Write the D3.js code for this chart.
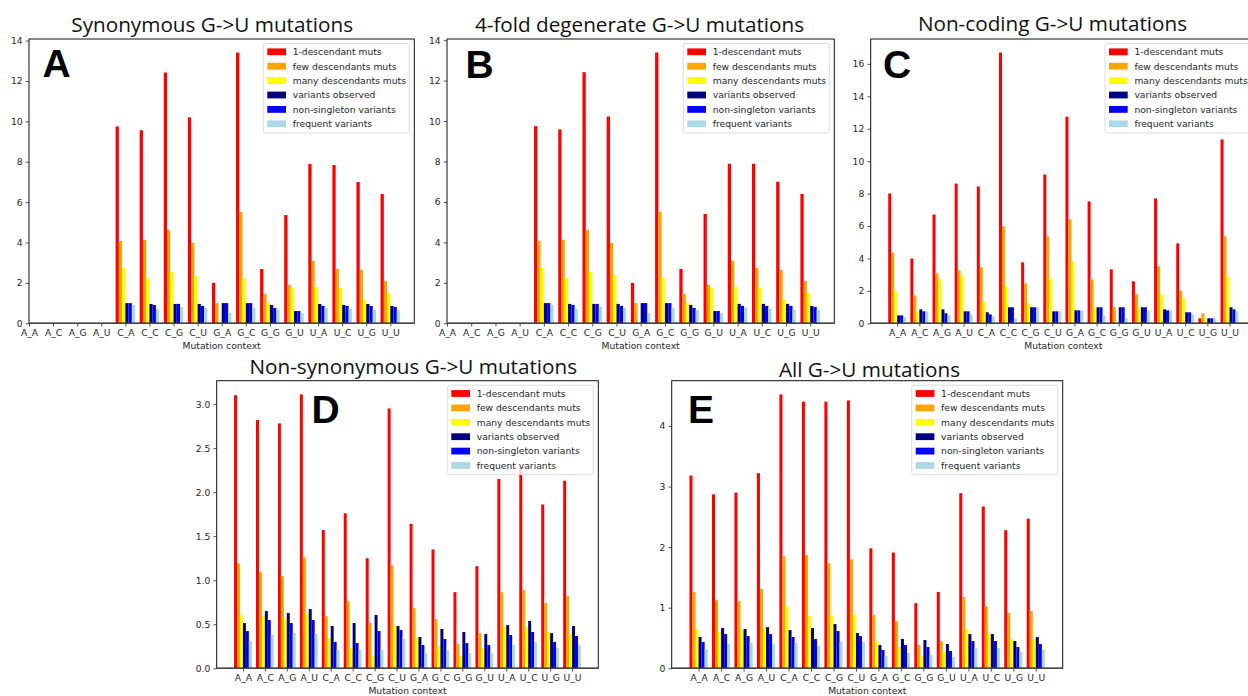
<!DOCTYPE html>
<html>
<head>
<meta charset="utf-8">
<script src="https://cdn.jsdelivr.net/npm/d3@7/dist/d3.min.js"></script>
<style>
  body { margin: 0; background: #fff; }
  svg { display: block; }
  .axis text { font-family: 'DejaVu Sans', sans-serif; font-size: 9.2px; fill: #262626; }
  .axis line { stroke: #262626; stroke-width: 0.8; }
  .axis-label { font-family: 'DejaVu Sans', sans-serif; font-size: 9.2px; fill: #262626; }
  .legend-text { font-family: 'DejaVu Sans', sans-serif; font-size: 9.2px; fill: #262626; }
  .panel-title { font-family: 'Open Sans', sans-serif; font-size: 20.7px; fill: #111; }
  .panel-letter { font-family: 'Liberation Sans', Arial, sans-serif; font-weight: bold; font-size: 39px; fill: #000; }
</style>
</head>
<body>
<svg id="chart" width="1248" height="696"></svg>
<script>
var contexts = ['A_A', 'A_C', 'A_G', 'A_U', 'C_A', 'C_C', 'C_G', 'C_U', 'G_A', 'G_C', 'G_G', 'G_U', 'U_A', 'U_C', 'U_G', 'U_U']
var seriesNames = ['1-descendant muts', 'few descendants muts', 'many descendants muts', 'variants observed', 'non-singleton variants', 'frequent variants']
var seriesColors = ['red', 'orange', 'yellow', 'navy', 'blue', 'lightblue']

// one row per series, one column per context (null = no bar)
var synonymousValues = [
  [null, null, null, null, 9.75, 9.56, 12.42, 10.2, 2.0, 13.41, 2.69, 5.36, 7.89, 7.84, 7.0, 6.4],
  [null, null, null, null, 4.08, 4.13, 4.62, 3.98, 1.0, 5.51, 1.45, 1.9, 3.09, 2.69, 2.64, 2.1],
  [null, null, null, null, 2.74, 2.24, 2.54, 2.34, 0, 2.24, 1.0, 1.75, 1.8, 1.75, 1.16, 1.5],
  [null, null, null, null, 1.0, 0.96, 0.96, 0.96, 1.0, 1.0, 0.91, 0.61, 0.96, 0.91, 0.96, 0.86],
  [null, null, null, null, 1.0, 0.91, 0.96, 0.86, 1.0, 1.0, 0.76, 0.61, 0.86, 0.86, 0.86, 0.81],
  [null, null, null, null, 0.91, 0.71, 0.81, 0.76, 0.51, 0.76, 0.66, 0.51, 0.76, 0.71, 0.66, 0.66]
]
var fourfoldValues = [
  [null, null, null, null, 9.75, 9.59, 12.42, 10.23, 2.0, 13.39, 2.69, 5.41, 7.89, 7.89, 7.0, 6.4],
  [null, null, null, null, 4.08, 4.13, 4.62, 3.98, 1.0, 5.51, 1.45, 1.9, 3.09, 2.74, 2.64, 2.1],
  [null, null, null, null, 2.74, 2.24, 2.54, 2.39, 0, 2.24, 1.0, 1.75, 1.8, 1.75, 1.16, 1.5],
  [null, null, null, null, 1.0, 0.96, 0.96, 0.96, 1.0, 1.0, 0.91, 0.61, 0.96, 0.96, 0.96, 0.86],
  [null, null, null, null, 1.0, 0.91, 0.96, 0.86, 1.0, 1.0, 0.76, 0.61, 0.86, 0.86, 0.86, 0.81],
  [null, null, null, null, 0.91, 0.71, 0.81, 0.76, 0.51, 0.76, 0.66, 0.51, 0.76, 0.71, 0.66, 0.66]
]
var nonCodingValues = [
  [8.01, 4.0, 6.71, 8.62, 8.44, 16.7, 3.76, 9.18, 12.75, 7.52, 3.33, 2.59, 7.7, 4.93, 0.31, 11.34],
  [4.37, 1.72, 3.08, 3.26, 3.45, 5.98, 2.46, 5.36, 6.41, 2.71, 0.99, 1.79, 3.51, 2.03, 0.62, 5.36],
  [1.97, 0.74, 2.71, 2.96, 1.31, 2.28, 1.23, 2.77, 3.82, 0.99, 0, 0.99, 1.79, 1.54, 0.31, 2.9],
  [0.49, 0.86, 0.86, 0.74, 0.68, 0.99, 0.99, 0.74, 0.8, 0.99, 0.99, 0.99, 0.86, 0.68, 0.31, 0.99],
  [0.49, 0.74, 0.62, 0.74, 0.55, 0.99, 0.99, 0.74, 0.8, 0.99, 0.99, 0.99, 0.8, 0.68, 0.31, 0.86],
  [0.37, 0.74, 0.49, 0.55, 0.43, 0.31, 0.99, 0.74, 0.8, 0.49, 0.31, 0.74, 0.8, 0.55, 0.31, 0.74]
]
var nonSynonymousValues = [
  [3.10, 2.82, 2.78, 3.11, 1.57, 1.76, 1.25, 2.95, 1.64, 1.35, 0.865, 1.16, 2.15, 2.28, 1.86, 2.13],
  [1.19, 1.09, 1.047, 1.26, 0.593, 0.763, 0.514, 1.17, 0.684, 0.559, 0.276, 0.4, 0.865, 0.888, 0.74, 0.82],
  [0.605, 0.593, 0.571, 0.627, 0.344, 0.23, 0.14, 0.49, 0.344, 0.253, 0.14, 0.23, 0.469, 0.469, 0.412, 0.389],
  [0.514, 0.65, 0.627, 0.673, 0.48, 0.514, 0.605, 0.48, 0.355, 0.446, 0.412, 0.389, 0.491, 0.537, 0.4, 0.48],
  [0.423, 0.548, 0.514, 0.548, 0.3, 0.287, 0.423, 0.435, 0.265, 0.333, 0.287, 0.265, 0.378, 0.412, 0.3, 0.367],
  [0.31, 0.378, 0.4, 0.389, 0.208, 0.208, 0.208, 0.333, 0.174, 0.208, 0.174, 0.174, 0.265, 0.3, 0.23, 0.265]
]
var allValues = [
  [3.18, 2.87, 2.9, 3.22, 4.52, 4.4, 4.4, 4.42, 1.98, 1.91, 1.075, 1.26, 2.89, 2.67, 2.28, 2.47],
  [1.257, 1.125, 1.108, 1.306, 1.849, 1.866, 1.734, 1.8, 0.878, 0.779, 0.384, 0.45, 1.174, 1.026, 0.911, 0.944],
  [0.647, 0.598, 0.631, 0.68, 1.026, 0.861, 0.861, 0.894, 0.45, 0.351, 0.203, 0.269, 0.647, 0.582, 0.483, 0.483],
  [0.516, 0.664, 0.647, 0.68, 0.631, 0.664, 0.73, 0.582, 0.384, 0.483, 0.466, 0.4, 0.565, 0.565, 0.45, 0.516],
  [0.433, 0.565, 0.532, 0.565, 0.516, 0.483, 0.615, 0.532, 0.302, 0.384, 0.351, 0.285, 0.45, 0.45, 0.351, 0.4],
  [0.318, 0.4, 0.417, 0.4, 0.417, 0.368, 0.433, 0.433, 0.203, 0.252, 0.219, 0.187, 0.335, 0.335, 0.269, 0.302]
]

var panelTitles = ['Synonymous G->U mutations', '4-fold degenerate G->U mutations', 'Non-coding G->U mutations', 'Non-synonymous G->U mutations', 'All G->U mutations']
var panelLetters = ['A', 'B', 'C', 'D', 'E']
var yTicksA = [0, 2, 4, 6, 8, 10, 12, 14]
var yTicksC = [0, 2, 4, 6, 8, 10, 12, 14, 16]
var yTicksD = [0, 0.5, 1.0, 1.5, 2.0, 2.5, 3.0]
var yTicksE = [0, 1, 2, 3, 4]

// pixel layout of each panel
var panels = [
  { values: synonymousValues, ticks: yTicksA, fmt: d3.format('d'), frame: { left: 29, right: 414.3, top: 39, bottom: 323.3 }, title: [212.2, 31.7], letter: [42.5, 77.3] },
  { values: fourfoldValues, ticks: yTicksA, fmt: d3.format('d'), frame: { left: 447, right: 834.3, top: 39, bottom: 323.3 }, title: [639.5, 32.3], letter: [465.5, 78] },
  { values: nonCodingValues, ticks: yTicksC, fmt: d3.format('d'), frame: { left: 870.7, right: 1256, top: 39, bottom: 323.3 }, title: [1052.5, 30.7], letter: [883, 78] },
  { values: nonSynonymousValues, ticks: yTicksD, fmt: d3.format('.1f'), frame: { left: 216.7, right: 598.3, top: 380.7, bottom: 668.3 }, title: [413.3, 374], letter: [311.5, 422.7] },
  { values: allValues, ticks: yTicksE, fmt: d3.format('d'), frame: { left: 671.7, right: 1062.7, top: 380.7, bottom: 668.3 }, title: [869.5, 376.7], letter: [688, 422.7] }
]

var barWidth = 0.135
var svg = d3.select('#chart')

panels.forEach(function (panel, pI) {
  draw_panel(panel, pI)
})

function draw_panel (panel, pI) {
  var frame = panel.frame
  var values = panel.values
  var nSeries = values.length

  // data limits like matplotlib: bar extents + 5% margin, widened to include the ticks
  var used = d3.range(contexts.length).filter(function (i) {
    return values.some(function (row) { return row[i] !== null })
  })
  var xMin = d3.min(used) - nSeries / 2 * barWidth
  var xMax = d3.max(used) + nSeries / 2 * barWidth
  var margin = (xMax - xMin) * 0.05
  var yMax = d3.max(values, function (row) { return d3.max(row) }) * 1.05

  var x = d3.scaleLinear()
    .domain([Math.min(xMin - margin, 0), Math.max(xMax + margin, contexts.length - 1)])
    .range([frame.left, frame.right])
  var y = d3.scaleLinear()
    .domain([0, yMax])
    .range([frame.bottom, frame.top])

  var g = svg.append('g').attr('class', 'panel-' + pI)

  // bars
  values.forEach(function (row, sI) {
    g.append('g')
      .selectAll('rect')
      .data(row.map(function (v, i) { return { v: v, i: i } }).filter(function (d) { return d.v !== null }))
      .enter()
      .append('rect')
      .attr('x', function (d) { return x(d.i + (sI - nSeries / 2) * barWidth) })
      .attr('width', x(barWidth) - x(0))
      .attr('y', function (d) { return y(d.v) })
      .attr('height', function (d) { return y(0) - y(d.v) })
      .attr('fill', seriesColors[sI])
  })

  // axes
  g.append('g')
    .attr('class', 'axis')
    .attr('transform', 'translate(' + frame.left + ',0)')
    .call(d3.axisLeft(y).tickValues(panel.ticks).tickFormat(panel.fmt).tickSize(3.2).tickPadding(3.2).tickSizeOuter(0))
    .select('.domain').remove()
  g.append('g')
    .attr('class', 'axis')
    .attr('transform', 'translate(0,' + frame.bottom + ')')
    .call(d3.axisBottom(x).tickValues(d3.range(contexts.length)).tickFormat(function (i) { return contexts[i] }).tickSize(3.2).tickPadding(3.4).tickSizeOuter(0))
    .select('.domain').remove()

  g.append('rect')
    .attr('x', frame.left)
    .attr('y', frame.top)
    .attr('width', frame.right - frame.left)
    .attr('height', frame.bottom - frame.top)
    .attr('fill', 'none')
    .attr('stroke', '#111')
    .attr('stroke-width', 1)
  g.append('line')
    .attr('x1', frame.left).attr('x2', frame.right)
    .attr('y1', frame.bottom).attr('y2', frame.bottom)
    .attr('stroke', '#444')
    .attr('stroke-width', 1.6)

  g.append('text')
    .attr('class', 'axis-label')
    .attr('x', (frame.left + Math.min(frame.right, 1248 + 8)) / 2)
    .attr('y', frame.bottom + 26)
    .attr('text-anchor', 'middle')
    .text('Mutation context')

  // legend
  var legendW = 146
  var legend = g.append('g')
    .attr('transform', 'translate(' + (frame.right - 5 - legendW) + ',' + (frame.top + 4.5) + ')')
  legend.append('rect')
    .attr('width', legendW)
    .attr('height', 89.5)
    .attr('rx', 2.5)
    .attr('fill', '#fff')
    .attr('fill-opacity', 0.8)
    .attr('stroke', '#d4d4d4')
    .attr('stroke-width', 0.8)
  seriesNames.forEach(function (name, sI) {
    var rowY = 8.3 + sI * 14.4
    legend.append('rect')
      .attr('x', 4)
      .attr('y', rowY - 3.4)
      .attr('width', 18.7)
      .attr('height', 6.8)
      .attr('fill', seriesColors[sI])
    legend.append('text')
      .attr('class', 'legend-text')
      .attr('x', 29.4)
      .attr('y', rowY + 3.3)
      .text(name)
  })

  svg.append('text')
    .attr('class', 'panel-title')
    .attr('x', panel.title[0])
    .attr('y', panel.title[1])
    .attr('text-anchor', 'middle')
    .text(panelTitles[pI])
  svg.append('text')
    .attr('class', 'panel-letter')
    .attr('x', panel.letter[0])
    .attr('y', panel.letter[1])
    .text(panelLetters[pI])
}
</script>
</body>
</html>
